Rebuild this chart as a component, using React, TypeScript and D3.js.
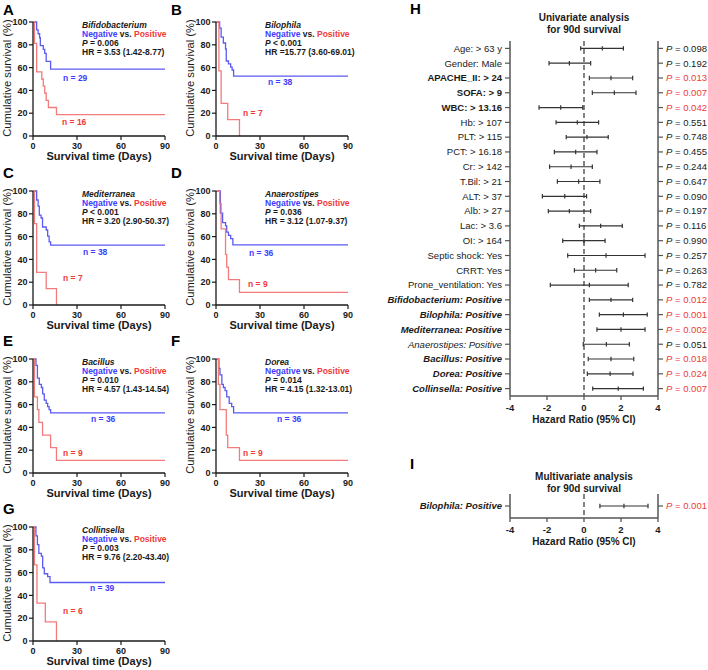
import React from 'react';
import * as d3 from 'd3';

type Pt = [number, number];

// Kaplan-Meier steps: [day, cumulative survival %]
const bifidoNeg: Pt[] = [[0, 100], [2.5, 93.1], [3.5, 89.7], [4.5, 86.2], [5, 79.3], [7, 75.9], [8, 72.4], [9, 65.5], [12, 58.6]];
const bifidoPos: Pt[] = [[0, 100], [1, 81.25], [2.5, 56.25], [6, 50], [7, 43.75], [8, 37.5], [9, 31.25], [10.5, 25], [16, 18.75]];
const bilophilaNeg: Pt[] = [[0, 100], [2.5, 94.7], [3.5, 86.8], [5, 81.6], [6.5, 76.3], [7, 65.8], [8.5, 63.2], [10, 60.5], [11, 57.9], [12, 52.6]];
const bilophilaPos: Pt[] = [[0, 100], [2, 57.1], [3.5, 28.6], [8, 14.3], [16, 0]];
const mediterraneaNeg: Pt[] = [[0, 100], [2.5, 92.1], [3.5, 86.8], [4.3, 78.9], [5.5, 76.3], [6.5, 68.4], [9, 65.8], [10, 60.5], [11, 55.3], [12, 52.6]];
const mediterraneaPos: Pt[] = [[0, 100], [1, 71.4], [2.5, 28.6], [9, 14.3], [16, 0]];
const anaerostipesNeg: Pt[] = [[0, 100], [3, 80.6], [4.5, 72.2], [6.5, 69.4], [7.3, 63.9], [8.5, 61.1], [10, 58.3], [11.5, 52.8]];
const anaerostipesPos: Pt[] = [[0, 100], [2.5, 88.9], [3.5, 66.7], [6.5, 44.4], [7.3, 33.3], [8.5, 22.2], [16, 11.1]];
const bacillusNeg: Pt[] = [[0, 100], [2, 94.4], [3, 83.3], [4.3, 77.8], [5.7, 75], [6.6, 69.4], [7.7, 63.9], [9, 61.1], [10, 58.3], [11, 55.6], [12, 52.8]];
const bacillusPos: Pt[] = [[0, 100], [1, 66.7], [3, 55.6], [4, 44.4], [6.5, 33.3], [12, 22.2], [16, 11.1]];
const doreaNeg: Pt[] = [[0, 100], [2, 91.7], [2.7, 86.1], [4, 77.8], [5, 75], [6.2, 72.2], [7.3, 66.7], [9, 61.1], [10.7, 58.3], [12, 52.8]];
const doreaPos: Pt[] = [[0, 100], [1.6, 77.8], [2.7, 55.6], [7, 33.3], [8, 22.2], [16, 11.1]];
const collinsellaNeg: Pt[] = [[0, 100], [2, 92.3], [3, 84.6], [4, 76.9], [5.7, 74.4], [6.6, 64.1], [7.7, 59], [10, 56.4], [11.6, 51.3]];
const collinsellaPos: Pt[] = [[0, 100], [1, 66.7], [2.7, 33.3], [8.4, 16.7], [16, 0]];

const genera = ['Bifidobacterium', 'Bilophila', 'Mediterranea', 'Anaerostipes', 'Bacillus', 'Dorea', 'Collinsella'];
const kmP = ['= 0.006', '< 0.001', '< 0.001', '= 0.036', '= 0.010', '= 0.014', '= 0.003'];
const kmHR = ['HR = 3.53 (1.42-8.77)', 'HR =15.77 (3.60-69.01)', 'HR = 3.20 (2.90-50.37)', 'HR = 3.12 (1.07-9.37)',
  'HR = 4.57 (1.43-14.54)', 'HR = 4.15 (1.32-13.01)', 'HR = 9.76 (2.20-43.40)'];
const nNeg = [29, 38, 38, 36, 36, 36, 39];
const nPos = [16, 7, 7, 9, 9, 9, 6];
const negCurves = [bifidoNeg, bilophilaNeg, mediterraneaNeg, anaerostipesNeg, bacillusNeg, doreaNeg, collinsellaNeg];
const posCurves = [bifidoPos, bilophilaPos, mediterraneaPos, anaerostipesPos, bacillusPos, doreaPos, collinsellaPos];
const panelLetters = ['A', 'B', 'C', 'D', 'E', 'F', 'G'];
const dayTicks = [0, 30, 60, 90];
const survTicks = [0, 20, 40, 60, 80, 100];

// univariate Cox
const clinical = ['Age: > 63 y', 'Gender: Male', 'APACHE_II: > 24', 'SOFA: > 9', 'WBC: > 13.16', 'Hb: > 107', 'PLT: > 115',
  'PCT: > 16.18', 'Cr: > 142', 'T.Bil: > 21', 'ALT: > 37', 'Alb: > 27', 'Lac: > 3.6', 'OI: > 164', 'Septic shock: Yes',
  'CRRT: Yes', 'Prone_ventilation: Yes'];
const uniLabels = [...clinical, ...genera.map(g => `${g}: Positive`)];
const uniLow = [-0.18, -1.89, 0.29, 0.45, -2.43, -1.51, -0.96, -1.6, -1.86, -1.44, -2.25, -1.93, -0.25, -1.15, -0.88, -0.52, -1.82, 0.29, 0.83, 0.7, -0.04, 0.23, 0.18, 0.47];
const uniMid = [0.99, -0.79, 1.46, 1.64, -1.26, -0.36, 0.16, -0.45, -0.7, -0.29, -1.04, -0.79, 0.9, 0, 1.19, 0.63, 0.29, 1.46, 2.13, 2.0, 1.21, 1.46, 1.41, 1.85];
const uniHigh = [2.13, 0.36, 2.63, 2.81, -0.07, 0.79, 1.31, 0.7, 0.45, 0.86, 0.14, 0.36, 2.07, 1.14, 3.3, 1.77, 2.39, 2.63, 3.42, 3.3, 2.45, 2.69, 2.65, 3.21];
const uniP = [0.098, 0.192, 0.013, 0.007, 0.042, 0.551, 0.748, 0.455, 0.244, 0.647, 0.090, 0.197, 0.116, 0.990, 0.257, 0.263, 0.782, 0.012, 0.001, 0.002, 0.051, 0.018, 0.024, 0.007];

// multivariate
const multiLabels = ['Bilophila: Positive'];
const multiLow = [0.86];
const multiMid = [2.16];
const multiHigh = [3.46];
const multiP = [0.001];

const hrTicks = [-4, -2, 0, 2, 4];

const FONT = '"Liberation Sans", Arial, Helvetica, sans-serif';
const BLUE_LINE = '#5b5bf2';
const RED_LINE = '#f27b7b';
const BLUE_TXT = '#3d3dff';
const RED_TXT = '#f03a3a';
const INK = '#1a1a1a';

// layout
const colX = [33, 216];
const rowY = [22, 191, 359, 527];
const plotW = 132, plotH = 114;
// n-label offsets (px from the axis origin at 100%)
const nNegPos = [[30, 59], [52, 63], [50, 64], [33, 65], [58, 63], [61, 63], [57, 64]];
const nPosPos = [[29, 103], [27, 94], [30, 90], [32, 96], [30, 97], [27, 97], [30, 87]];

function KMPanel({ i }: { i: number }) {
  const col = i % 2, row = Math.floor(i / 2);
  const ox = colX[col], oy = rowY[row];
  const x = d3.scaleLinear().domain([0, 90]).range([0, plotW]);
  const y = d3.scaleLinear().domain([0, 100]).range([plotH, 0]);
  const line = d3.line<Pt>().x(d => x(d[0])).y(d => y(d[1])).curve(d3.curveStepAfter);
  const extend = (s: Pt[]): Pt[] => (s[s.length - 1][1] === 0 ? s : [...s, [90, s[s.length - 1][1]]]);
  const ax = 49;
  return (
    <g transform={`translate(${ox},${oy})`} fontFamily={FONT}>
      <text x={col === 0 ? -30 : -45} y={row === 0 ? -7.5 : -13} fontSize={15} fontWeight="bold" fill="#000">{panelLetters[i]}</text>
      <path d={line(extend(negCurves[i])) || ''} fill="none" stroke={BLUE_LINE} strokeWidth={1.3} />
      <path d={line(extend(posCurves[i])) || ''} fill="none" stroke={RED_LINE} strokeWidth={1.3} />
      {/* axes */}
      <line x1={0} x2={0} y1={0} y2={plotH} stroke={INK} strokeWidth={1.3} />
      <line x1={0} x2={plotW} y1={plotH} y2={plotH} stroke={INK} strokeWidth={1.3} />
      {survTicks.map(t => (
        <g key={'y' + t} transform={`translate(0,${y(t)})`}>
          <line x1={-4} x2={0} stroke={INK} strokeWidth={1.2} />
          <text x={-5.5} dy="0.35em" textAnchor="end" fontSize={9} fontWeight="bold" fill={INK}>{t}</text>
        </g>
      ))}
      {dayTicks.map(t => (
        <g key={'x' + t} transform={`translate(${x(t)},${plotH})`}>
          <line y1={0} y2={4} stroke={INK} strokeWidth={1.2} />
          <text y={12.5} textAnchor="middle" fontSize={9} fontWeight="bold" fill={INK}>{t}</text>
        </g>
      ))}
      <text x={plotW / 2} y={plotH + 24} textAnchor="middle" fontSize={11} fontWeight="bold" fill={INK}>Survival time (Days)</text>
      <text transform={`translate(-22,${plotH / 2 - 1}) rotate(-90)`} textAnchor="middle" fontSize={11.2} fill={INK}>Cumulative survival (%)</text>
      {/* annotation */}
      <g fontSize={8.5} fontWeight="bold" fill={INK} style={{ whiteSpace: 'pre' }}>
        <text x={ax} y={6} fontStyle="italic">{genera[i]}</text>
        <text x={ax} y={15}>
          <tspan fill={BLUE_TXT}>Negative</tspan><tspan> vs. </tspan><tspan fill={RED_TXT}>Positive</tspan>
        </text>
        <text x={ax} y={23.5}><tspan fontStyle="italic">P</tspan><tspan>{' ' + kmP[i]}</tspan></text>
        <text x={ax} y={32.5}>{kmHR[i]}</text>
        <text x={nNegPos[i][0]} y={nNegPos[i][1]} fill={BLUE_TXT}>{`n = ${nNeg[i]}`}</text>
        <text x={nPosPos[i][0]} y={nPosPos[i][1]} fill={RED_TXT}>{`n = ${nPos[i]}`}</text>
      </g>
    </g>
  );
}

function Forest({ labels, low, mid, high, p, top, bottom, letter, letterY, title, titleY, italicFrom }:
  { labels: string[]; low: number[]; mid: number[]; high: number[]; p: number[]; top: number; bottom: number;
    letter: string; letterY: number; title: string[]; titleY: number; italicFrom: number }) {
  const x = d3.scaleLinear().domain([-4, 4]).range([510, 658]);
  const yb = d3.scaleBand<string>().domain(labels).range([top, bottom]);
  const axisCol = '#555';
  return (
    <g fontFamily={FONT}>
      <text x={410} y={letterY} fontSize={15} fontWeight="bold" fill="#000">{letter}</text>
      {title.map((t, k) => (
        <text key={t} x={584} y={titleY + k * 12} textAnchor="middle" fontSize={10} fontWeight="bold" fill={INK}>{t}</text>
      ))}
      <line x1={x(0)} x2={x(0)} y1={top} y2={bottom} stroke="#333" strokeWidth={1.2} strokeDasharray="5,3" />
      <line x1={x(-4)} x2={x(-4)} y1={top} y2={bottom} stroke={axisCol} strokeWidth={1.5} />
      <line x1={x(4)} x2={x(4)} y1={top} y2={bottom} stroke={axisCol} strokeWidth={1.5} />
      <line x1={x(-4)} x2={x(4)} y1={bottom} y2={bottom} stroke={axisCol} strokeWidth={1.5} />
      {hrTicks.map(t => (
        <g key={t} transform={`translate(${x(t)},${bottom})`}>
          <line y1={0} y2={4} stroke={axisCol} strokeWidth={1.3} />
          <text y={15} textAnchor="middle" fontSize={9.5} fontWeight="bold" fill={INK}>{t}</text>
        </g>
      ))}
      <text x={584} y={bottom + 27} textAnchor="middle" fontSize={10} fontWeight="bold" fill={INK}>Hazard Ratio (95% CI)</text>
      {labels.map((lab, k) => {
        const cy = (yb(lab) || 0) + yb.bandwidth() / 2;
        const sig = p[k] < 0.05;
        const micro = k >= italicFrom;
        return (
          <g key={lab}>
            <line x1={x(-4) - 5} x2={x(-4)} y1={cy} y2={cy} stroke={axisCol} strokeWidth={1.2} />
            <line x1={x(4)} x2={x(4) + 5} y1={cy} y2={cy} stroke={axisCol} strokeWidth={1.2} />
            <text x={502} y={cy} dy="0.35em" textAnchor="end" fontSize={9.5}
              fontWeight={sig ? 'bold' : 'normal'} fontStyle={micro ? 'italic' : 'normal'} fill={INK}>{lab}</text>
            <line x1={x(low[k])} x2={x(high[k])} y1={cy} y2={cy} stroke="#333" strokeWidth={1.2} />
            {[low[k], mid[k], high[k]].map((v, j) => (
              <line key={j} x1={x(v)} x2={x(v)} y1={cy - 2.2} y2={cy + 2.2} stroke="#333" strokeWidth={1.2} />
            ))}
            <text x={666} y={cy} dy="0.35em" fontSize={9.5} fill={sig ? RED_TXT : INK} style={{ whiteSpace: 'pre' }}>
              <tspan fontStyle="italic">P</tspan><tspan>{' = ' + p[k].toFixed(3)}</tspan>
            </text>
          </g>
        );
      })}
    </g>
  );
}

export default function App() {
  return (
    <svg width={708} height={670} style={{ position: 'absolute', left: 0, top: 0, background: '#fff' }}>
      <rect width={708} height={670} fill="#fff" />
      {genera.map((g, i) => <KMPanel key={g} i={i} />)}
      <Forest labels={uniLabels} low={uniLow} mid={uniMid} high={uniHigh} p={uniP} top={41} bottom={396}
        letter="H" letterY={14} title={['Univariate analysis', 'for 90d survival']} titleY={21} italicFrom={clinical.length} />
      <Forest labels={multiLabels} low={multiLow} mid={multiMid} high={multiHigh} p={multiP} top={494} bottom={518}
        letter="I" letterY={469} title={['Multivariate analysis', 'for 90d survival']} titleY={480} italicFrom={0} />
    </svg>
  );
}
